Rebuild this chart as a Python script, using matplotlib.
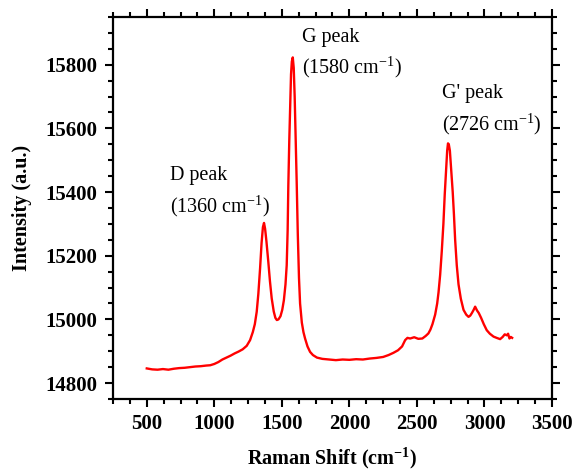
import matplotlib
matplotlib.use('Agg')
import matplotlib.pyplot as plt
from matplotlib.ticker import MultipleLocator

plt.rcParams['font.family'] = ['Liberation Serif', 'DejaVu Serif']
plt.rcParams['mathtext.fontset'] = 'custom'
plt.rcParams['mathtext.rm'] = 'Liberation Serif'
plt.rcParams['mathtext.bf'] = 'Liberation Serif:bold'

# Raman spectrum: (shift, intensity)
spectrum = [
    (500, 14846), (540, 14843), (580, 14842), (620, 14844), (660, 14842), (700, 14845),
    (740, 14847), (780, 14848), (820, 14850), (860, 14852), (900, 14853), (940, 14855),
    (970, 14856), (1000, 14860), (1030, 14866), (1060, 14874), (1090, 14880), (1120, 14886),
    (1150, 14893), (1180, 14899), (1210, 14906), (1240, 14917), (1265, 14935), (1285, 14960),
    (1300, 14985), (1314, 15024), (1326, 15080), (1339, 15161), (1350, 15240), (1360, 15290),
    (1368, 15303), (1376, 15285), (1386, 15245), (1400, 15180), (1412, 15120), (1425, 15066),
    (1440, 15025), (1452, 15005), (1463, 14998), (1475, 15000), (1490, 15010), (1503, 15030),
    (1515, 15060), (1527, 15110), (1536, 15170), (1543, 15280), (1548, 15420), (1555, 15560),
    (1562, 15680), (1568, 15770), (1574, 15810), (1581, 15823), (1588, 15790), (1595, 15700),
    (1602, 15580), (1610, 15430), (1618, 15270), (1627, 15130), (1635, 15050), (1648, 14990),
    (1660, 14960), (1672, 14940), (1690, 14915), (1709, 14898), (1730, 14888), (1760, 14880),
    (1800, 14876), (1850, 14874), (1900, 14872), (1950, 14874), (2000, 14873), (2050, 14875),
    (2100, 14874), (2150, 14877), (2200, 14879), (2250, 14882), (2290, 14888), (2326, 14895),
    (2360, 14903), (2390, 14915), (2413, 14935), (2430, 14942), (2450, 14940), (2480, 14944),
    (2510, 14939), (2540, 14940), (2565, 14948), (2585, 14956), (2600, 14968), (2615, 14985),
    (2635, 15015), (2650, 15050), (2660, 15085), (2672, 15140), (2684, 15214), (2696, 15300),
    (2706, 15393), (2716, 15470), (2724, 15530), (2730, 15553), (2736, 15550), (2744, 15530),
    (2754, 15470), (2765, 15400), (2774, 15330), (2783, 15250), (2795, 15170), (2808, 15110),
    (2825, 15065), (2845, 15030), (2865, 15015), (2882, 15008), (2895, 15012), (2907, 15020),
    (2920, 15030), (2931, 15040), (2945, 15028), (2958, 15020), (2975, 15005), (2995, 14985),
    (3017, 14966), (3040, 14955), (3067, 14946), (3090, 14942), (3116, 14938), (3135, 14945),
    (3150, 14953), (3166, 14950), (3175, 14955), (3185, 14940), (3195, 14945), (3205, 14942),
]
raman_shift = [p[0] for p in spectrum]
intensity = [p[1] for p in spectrum]

fig = plt.figure(figsize=(5.75, 4.72), dpi=100)
ax = fig.add_axes([0.1965, 0.1547, 0.7635, 0.8093])

ax.plot(raman_shift, intensity, color='red', linewidth=1.7)

ax.set_xlim(250, 3500)
ax.set_ylim(14750, 15950)
ax.xaxis.set_major_locator(MultipleLocator(500))
ax.xaxis.set_minor_locator(MultipleLocator(125))
ax.yaxis.set_major_locator(MultipleLocator(200))
ax.yaxis.set_minor_locator(MultipleLocator(50))

for s in ax.spines.values():
    s.set_linewidth(1.6)
ax.tick_params(which='both', direction='out', top=True, right=True, width=1.5)
ax.tick_params(which='major', length=6, pad=5)
ax.tick_params(which='minor', length=3.5)
ax.tick_params(labelsize=15)
for lbl in ax.get_xticklabels() + ax.get_yticklabels():
    lbl.set_fontweight('bold')

ax.set_xlabel(r'Raman Shift (cm$^{\mathbf{-1}}$)', fontsize=14.5, fontweight='bold', labelpad=8)
ax.set_ylabel('Intensity (a.u.)', fontsize=14.5, fontweight='bold', labelpad=10)

ax.text(672, 15451, 'D peak', fontsize=14.5, va='center')
ax.text(672, 15356, r'(1360 cm$^{-1}$)', fontsize=14.5, va='center')
ax.text(1650, 15887, 'G peak', fontsize=14.5, va='center')
ax.text(1650, 15792, r'(1580 cm$^{-1}$)', fontsize=14.5, va='center')
ax.text(2687, 15710, "G' peak", fontsize=14.5, va='center')
ax.text(2687, 15615, r'(2726 cm$^{-1}$)', fontsize=14.5, va='center')

fig.savefig('out.png', dpi=100)
